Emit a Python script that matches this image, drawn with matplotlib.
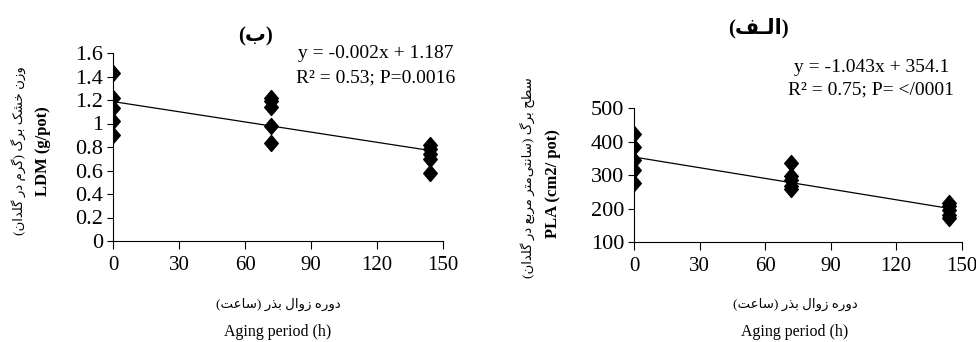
import numpy as np
import matplotlib
matplotlib.use('Agg')
import matplotlib.pyplot as plt
from matplotlib.path import Path

# data
hours = [0, 72, 144]
ldm_0 = [1.43, 1.22, 1.13, 1.02, 0.90]
ldm_72 = [1.22, 1.19, 1.14, 0.98, 0.83]
ldm_144 = [0.82, 0.78, 0.74, 0.70, 0.58]
pla_0 = [423, 383, 345, 315, 276]
pla_72 = [335, 298, 285, 268, 260]
pla_144 = [218, 208, 195, 182, 172]

x_ticks = [0, 30, 60, 90, 120, 150]
ldm_ticks = [0, 0.2, 0.4, 0.6, 0.8, 1, 1.2, 1.4, 1.6]
ldm_ticklabels = ['0', '0.2', '0.4', '0.6', '0.8', '1', '1.2', '1.4', '1.6']
pla_ticks = [100, 200, 300, 400, 500]

ldm_eq = ['y = -0.002x + 1.187', 'R² = 0.53; P=0.0016']
pla_eq = ['y = -1.043x + 354.1', 'R² = 0.75; P= </0001']

title_ldm = '(ب)'
title_pla = '(الـف)'
ylab_ldm_fa = 'وزن خشک برگ (گرم در گلدان)'
ylab_ldm_en = 'LDM (g/pot)'
ylab_pla_fa = 'سطح برگ (سانتی\u200cمتر مربع در گلدان)'
ylab_pla_en = 'PLA (cm2/ pot)'
xlab_fa = 'دوره زوال بذر (ساعت)'
xlab_en = 'Aging period (h)'

# minimal arabic shaping (matplotlib has no shaping / bidi)
DUAL = {'ب': 0xFE8F, 'ت': 0xFE95, 'ج': 0xFE9D, 'ح': 0xFEA1, 'خ': 0xFEA5,
        'س': 0xFEB1, 'ش': 0xFEB5, 'ط': 0xFEC1, 'ع': 0xFEC9, 'ف': 0xFED1,
        'ل': 0xFEDD, 'م': 0xFEE1, 'ن': 0xFEE5, 'ه': 0xFEE9, 'ک': 0xFB8E,
        'گ': 0xFB92, 'ی': 0xFBFC}
RIGHT = {'ا': 0xFE8D, 'د': 0xFEA9, 'ذ': 0xFEAB, 'ر': 0xFEAD, 'ز': 0xFEAF,
         'و': 0xFEED}
TAT = 'ـ'


def fa(s):
    out = []
    for i, c in enumerate(s):
        prev = s[i - 1] if i > 0 else ''
        nxt = s[i + 1] if i + 1 < len(s) else ''
        jp = prev in DUAL or prev == TAT
        jn = nxt in DUAL or nxt in RIGHT or nxt == TAT
        if c in DUAL:
            b = DUAL[c]
            if jp and jn:
                out.append(chr(b + 3))
            elif jp:
                out.append(chr(b + 1))
            elif jn:
                out.append(chr(b + 2))
            else:
                out.append(chr(b))
        elif c in RIGHT:
            out.append(chr(RIGHT[c] + (1 if jp else 0)))
        elif c == '\u200c':
            continue
        else:
            out.append(c)
    vis = ''.join(out)[::-1]
    return vis.translate(str.maketrans('()', ')('))


plt.rcParams['font.family'] = ['Liberation Serif', 'DejaVu Sans']
FA = ['Liberation Serif', 'DejaVu Sans']

W, H = 976, 342
fig = plt.figure(figsize=(W / 100, H / 100), dpi=100)


def fx(px):
    return px / W


def fy(py):
    return 1 - py / H


diamond = Path([(0, 1), (0.85, 0), (0, -1), (-0.85, 0), (0, 1)],
               [Path.MOVETO, Path.LINETO, Path.LINETO, Path.LINETO, Path.CLOSEPOLY])


def panel(rect, groups, ylim, yticks, yticklabels):
    ax = fig.add_axes(rect)
    xs = []
    ys = []
    for h, vals in zip(hours, groups):
        xs += [h] * len(vals)
        ys += vals
    ax.plot(xs, ys, linestyle='none', marker=diamond, markersize=11.5,
            color='black', zorder=3)
    k, b = np.polyfit(xs, ys, 1)
    lx = np.array([hours[0], hours[-1]])
    ax.plot(lx, k * lx + b, color='black', lw=0.9, zorder=2)
    ax.set_xlim(0, 150)
    ax.set_ylim(*ylim)
    ax.set_xticks(x_ticks)
    ax.set_yticks(yticks)
    ax.set_yticklabels(yticklabels)
    for s in ['top', 'right']:
        ax.spines[s].set_visible(False)
    ax.spines['left'].set_linewidth(0.8)
    ax.spines['bottom'].set_linewidth(0.8)
    ax.tick_params(axis='x', direction='out', length=5.5, width=0.8, pad=5,
                   labelsize=15)
    ax.tick_params(axis='y', direction='out', length=4, width=0.8, pad=3,
                   labelsize=16)
    ax.patch.set_alpha(0)
    return ax


ax1 = panel([fx(113), fy(241), fx(330), 188 / H], [ldm_0, ldm_72, ldm_144],
            (0, 1.6), ldm_ticks, ldm_ticklabels)
ax2 = panel([fx(634), fy(242), fx(327.7), 133.7 / H], [pla_0, pla_72, pla_144],
            (100, 500), pla_ticks, [str(t) for t in pla_ticks])

# titles
fig.text(fx(255), fy(36), fa(title_ldm), family=FA, fontsize=15,
         fontweight='bold', ha='center', va='center')
fig.text(fx(758), fy(28), fa(title_pla), family=FA, fontsize=15,
         fontweight='bold', ha='center', va='center')

# equations
fig.text(fx(453), fy(53), ldm_eq[0], fontsize=14, ha='right', va='center')
fig.text(fx(455), fy(78), ldm_eq[1], fontsize=14, ha='right', va='center')
fig.text(fx(949), fy(67), pla_eq[0], fontsize=14, ha='right', va='center')
fig.text(fx(954), fy(90), pla_eq[1], fontsize=14, ha='right', va='center')

# y labels
fig.text(fx(18), fy(151), fa(ylab_ldm_fa), family=FA, fontsize=9.5,
         rotation=90, ha='center', va='center')
fig.text(fx(43), fy(151), ylab_ldm_en, fontsize=12, fontweight='bold',
         rotation=90, ha='center', va='center')
fig.text(fx(527), fy(178), fa(ylab_pla_fa), family=FA, fontsize=9.5,
         rotation=90, ha='center', va='center')
fig.text(fx(553), fy(184), ylab_pla_en, fontsize=12, fontweight='bold',
         rotation=90, ha='center', va='center')

# x labels
for cx in (278, 795):
    fig.text(fx(cx), fy(304), fa(xlab_fa), family=FA, fontsize=9.5,
             ha='center', va='center')
    fig.text(fx(cx), fy(332), xlab_en, fontsize=11.5, ha='center', va='center')

fig.savefig('out.png', dpi=100)
